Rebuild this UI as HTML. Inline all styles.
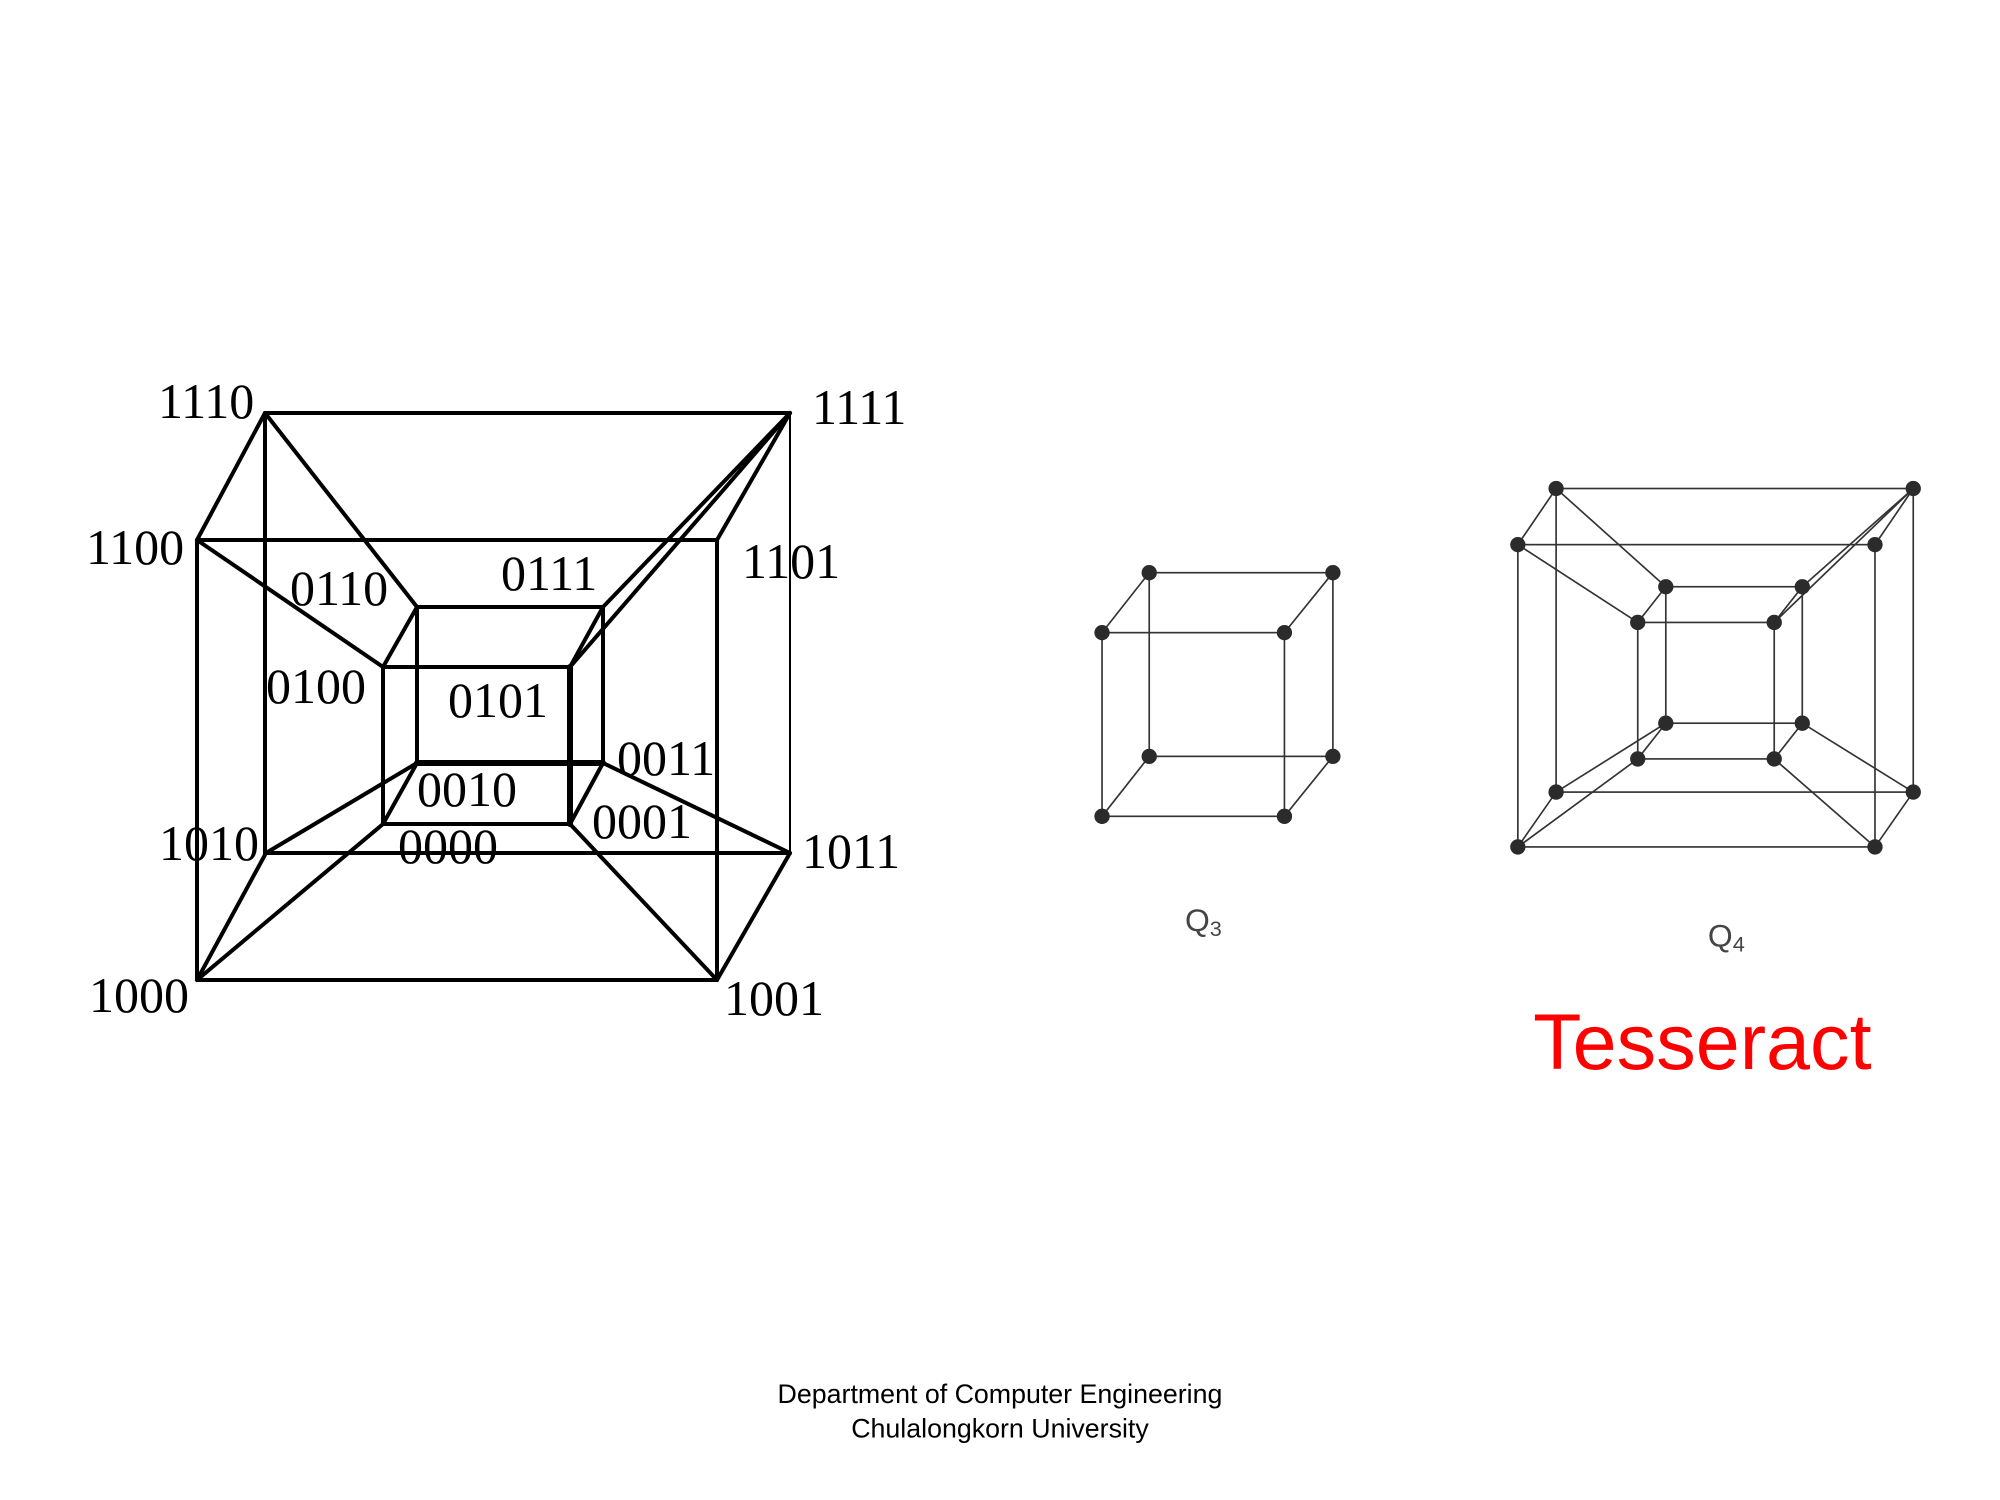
<!DOCTYPE html>
<html><head><meta charset="utf-8"><style>
html,body{margin:0;padding:0;background:#fff;}
svg{display:block;}
</style></head><body>
<svg width="2000" height="1500" viewBox="0 0 2000 1500" xmlns="http://www.w3.org/2000/svg">
<rect width="2000" height="1500" fill="#fff"/>
<g stroke="#000" stroke-width="4" fill="none" stroke-linecap="round" stroke-linejoin="round">
  <line x1="265" y1="413" x2="790" y2="413"/>
  <line x1="265" y1="413" x2="265" y2="853"/>
  <line x1="790" y1="413" x2="790" y2="853" stroke-width="2"/>
  <line x1="265" y1="853" x2="790" y2="853"/>
  <rect x="197" y="540" width="520" height="440"/>
  <line x1="265" y1="413" x2="197" y2="540"/>
  <line x1="790" y1="413" x2="717" y2="540"/>
  <line x1="266" y1="853" x2="197" y2="980"/>
  <line x1="790" y1="853" x2="717" y2="980"/>
  <rect x="417" y="607" width="186" height="156"/>
  <rect x="383" y="667" width="187" height="157"/>
  <line x1="570" y1="667" x2="570" y2="824" stroke-width="6"/>
  <line x1="417" y1="763" x2="603" y2="763" stroke-width="6"/>
  <line x1="417" y1="607" x2="383" y2="667"/>
  <line x1="603" y1="607" x2="570" y2="667"/>
  <line x1="417" y1="763" x2="383" y2="824"/>
  <line x1="603" y1="763" x2="570" y2="824"/>
  <line x1="265" y1="413" x2="417" y2="607"/>
  <line x1="197" y1="540" x2="383" y2="667"/>
  <line x1="790" y1="413" x2="603" y2="607"/>
  <line x1="790" y1="413" x2="570" y2="667"/>
  <line x1="266" y1="853" x2="417" y2="763"/>
  <line x1="197" y1="980" x2="383" y2="824"/>
  <line x1="790" y1="853" x2="603" y2="763"/>
  <line x1="717" y1="980" x2="570" y2="824"/>
</g>
<g font-family="'Liberation Serif', serif" font-size="50" fill="#000">
  <text x="158" y="418">1110</text>
  <text x="812" y="424">1111</text>
  <text x="86" y="564">1100</text>
  <text x="742" y="578">1101</text>
  <text x="290" y="605">0110</text>
  <text x="501" y="590">0111</text>
  <text x="266" y="703">0100</text>
  <text x="448" y="717">0101</text>
  <text x="617" y="775">0011</text>
  <text x="417" y="806">0010</text>
  <text x="592" y="838">0001</text>
  <text x="398" y="863">0000</text>
  <text x="159" y="860">1010</text>
  <text x="802" y="868">1011</text>
  <text x="89" y="1012">1000</text>
  <text x="724" y="1015">1001</text>
</g>
<g transform="scale(1.2755)">
  <g stroke="#333" stroke-width="1.3" fill="none">
    <rect x="901" y="449" width="144" height="144"/>
    <rect x="864" y="496" width="143" height="144"/>
    <line x1="901" y1="449" x2="864" y2="496"/>
    <line x1="1045" y1="449" x2="1007" y2="496"/>
    <line x1="901" y1="593" x2="864" y2="640"/>
    <line x1="1045" y1="593" x2="1007" y2="640"/>
  </g>
  <g fill="#2b2b2b">
    <circle cx="901" cy="449" r="6"/><circle cx="1045" cy="449" r="6"/>
    <circle cx="901" cy="593" r="6"/><circle cx="1045" cy="593" r="6"/>
    <circle cx="864" cy="496" r="6"/><circle cx="1007" cy="496" r="6"/>
    <circle cx="864" cy="640" r="6"/><circle cx="1007" cy="640" r="6"/>
  </g>
  <g stroke="#333" stroke-width="1.3" fill="none">
    <rect x="1220" y="383" width="280" height="238"/>
    <rect x="1190" y="427" width="280" height="237"/>
    <line x1="1220" y1="383" x2="1190" y2="427"/>
    <line x1="1500" y1="383" x2="1470" y2="427"/>
    <line x1="1220" y1="621" x2="1190" y2="664"/>
    <line x1="1500" y1="621" x2="1470" y2="664"/>
    <rect x="1306" y="460" width="107" height="107"/>
    <rect x="1284" y="488" width="107" height="107"/>
    <line x1="1306" y1="460" x2="1284" y2="488"/>
    <line x1="1413" y1="460" x2="1391" y2="488"/>
    <line x1="1306" y1="567" x2="1284" y2="595"/>
    <line x1="1413" y1="567" x2="1391" y2="595"/>
    <line x1="1220" y1="383" x2="1306" y2="460"/>
    <line x1="1190" y1="427" x2="1284" y2="488"/>
    <line x1="1500" y1="383" x2="1413" y2="460"/>
    <line x1="1500" y1="383" x2="1391" y2="488"/>
    <line x1="1220" y1="621" x2="1306" y2="567"/>
    <line x1="1190" y1="664" x2="1284" y2="595"/>
    <line x1="1500" y1="621" x2="1413" y2="567"/>
    <line x1="1470" y1="664" x2="1391" y2="595"/>
  </g>
  <g fill="#2b2b2b">
    <circle cx="1220" cy="383" r="6"/><circle cx="1500" cy="383" r="6"/>
    <circle cx="1220" cy="621" r="6"/><circle cx="1500" cy="621" r="6"/>
    <circle cx="1190" cy="427" r="6"/><circle cx="1470" cy="427" r="6"/>
    <circle cx="1190" cy="664" r="6"/><circle cx="1470" cy="664" r="6"/>
    <circle cx="1306" cy="460" r="6"/><circle cx="1413" cy="460" r="6"/>
    <circle cx="1306" cy="567" r="6"/><circle cx="1413" cy="567" r="6"/>
    <circle cx="1284" cy="488" r="6"/><circle cx="1391" cy="488" r="6"/>
    <circle cx="1284" cy="595" r="6"/><circle cx="1391" cy="595" r="6"/>
  </g>
  <g font-family="'Liberation Sans', sans-serif" fill="#444">
    <text x="929" y="730" font-size="25">Q<tspan font-size="17" dy="4">3</tspan></text>
    <text x="1339" y="742" font-size="25">Q<tspan font-size="17" dy="4">4</tspan></text>
  </g>
  <text x="1202" y="838" font-family="'Liberation Sans', sans-serif" font-size="62" fill="#ff0000">Tesseract</text>
  <g font-family="'Liberation Sans', sans-serif" font-size="21" fill="#000" text-anchor="middle">
    <text x="784" y="1100">Department of Computer Engineering</text>
    <text x="784" y="1127">Chulalongkorn University</text>
  </g>
</g>
</svg>
</body></html>
